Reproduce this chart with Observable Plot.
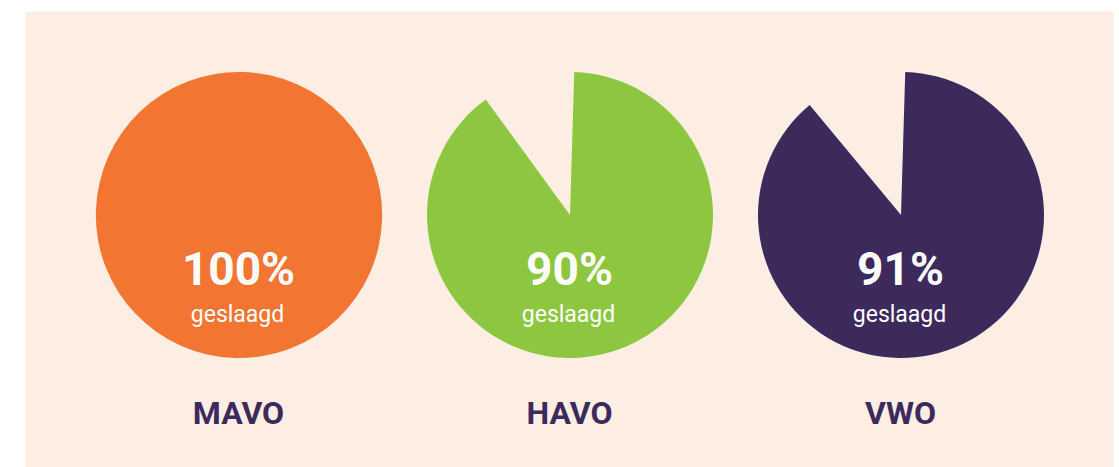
<!DOCTYPE html>
<html>
<head>
<meta charset="utf-8">
<script src="https://cdn.jsdelivr.net/npm/d3@7"></script>
<script src="https://cdn.jsdelivr.net/npm/@observablehq/plot@0.6"></script>
<style>
  html, body { margin: 0; padding: 0; background: #ffffff; }
  #chart svg { display: block; }
</style>
</head>
<body>
<div id="chart"></div>
<script>
// Data
const levels = ["MAVO", "HAVO", "VWO"];
const passPct = [100, 90, 91];                 // printed percentages
const drawnShare = [1.0, 0.895, 0.885];        // share of the disc drawn in the picture
const passWord = ["geslaagd", "geslaagd", "geslaagd"];
const colors = ["#F37532", "#8DC73F", "#3D295C"];

const rows = levels.map((name, i) => ({
  name, pct: passPct[i], share: drawnShare[i], word: passWord[i], color: colors[i]
}));

const bg = "#FCEEE3";
const ink = "#3D295C";
const radius = 143;
const startOffset = 1.7 * Math.PI / 180;   // slight rotation of the slice start seen in the picture

// custom pie mark using Plot's x scale
function pies(index, scales, values, dimensions) {
  const g = d3.create("svg:g");
  const arc = d3.arc().innerRadius(0).outerRadius(radius);
  const cy = dimensions.marginTop + 204;
  for (const d of rows) {
    const cx = scales.x(d.name);
    g.append("path")
      .attr("transform", `translate(${cx},${cy})`)
      .attr("fill", d.color)
      .attr("d", arc({startAngle: startOffset, endAngle: startOffset + d.share * 2 * Math.PI}));
  }
  return g.node();
}

const chart = Plot.plot({
  width: 1119,
  height: 467,
  marginLeft: 25,
  marginRight: 6,
  marginTop: 11,
  marginBottom: 0,
  style: {fontFamily: "Roboto, 'Open Sans', sans-serif", background: "#ffffff"},
  x: {type: "point", domain: levels, range: [238, 901], padding: 0, axis: null},
  marks: [
    Plot.frame({fill: bg, stroke: "none"}),
    pies,
    Plot.text(rows, {
      x: "name", text: d => `${d.pct}%`, frameAnchor: "top", lineAnchor: "bottom",
      dy: 273, dx: -1, fill: "#ffffff", fontSize: 46, fontWeight: "bold"
    }),
    Plot.text(rows, {
      x: "name", text: "word", frameAnchor: "top", lineAnchor: "bottom",
      dy: 310, dx: -2, fill: "#ffffff", fontSize: 23
    }),
    Plot.text(rows, {
      x: "name", text: "name", frameAnchor: "top", lineAnchor: "bottom",
      dy: 412, dx: -1, fill: ink, fontSize: 32, fontWeight: "bold"
    })
  ]
});

document.getElementById("chart").append(chart);
</script>
</body>
</html>
